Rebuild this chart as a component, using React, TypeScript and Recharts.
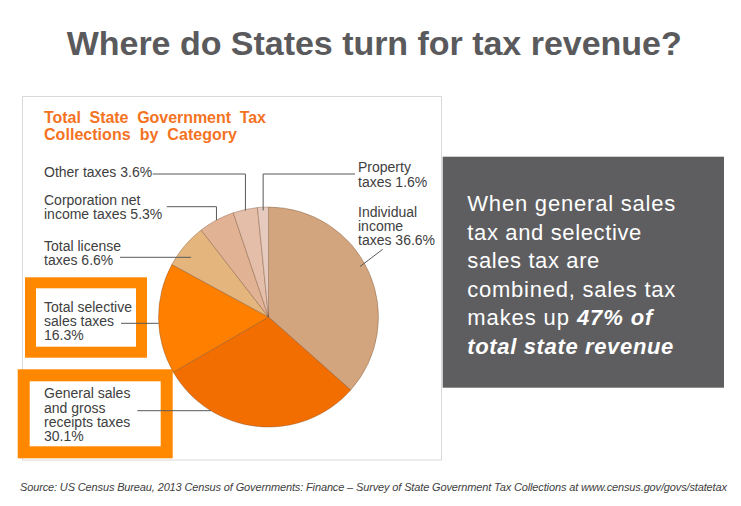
import { PieChart, Pie, Cell } from "recharts";

const categories = [
  "Individual income taxes",
  "General sales and gross receipts taxes",
  "Total selective sales taxes",
  "Total license taxes",
  "Corporation net income taxes",
  "Other taxes",
  "Property taxes",
];
const shares = [36.6, 30.1, 16.3, 6.6, 5.3, 3.6, 1.6];
// label text per slice, {v} is replaced by the share
const labelLines = [
  ["Individual", "income", "taxes {v}%"],
  ["General sales", "and gross", "receipts taxes", "{v}%"],
  ["Total selective", "sales taxes", "{v}%"],
  ["Total license", "taxes {v}%"],
  ["Corporation net", "income taxes {v}%"],
  ["Other taxes {v}%"],
  ["Property", "taxes {v}%"],
];
const calloutLines = [
  ["When general sales"],
  ["tax and selective"],
  ["sales tax are"],
  ["combined, sales tax"],
  ["makes up ", "47% of"],
  ["", "total state revenue"],
];

const sliceColors = ["#D2A57E", "#F36E00", "#FF7F00", "#E4B67D", "#E2B294", "#E4BEA8", "#E6CABE"];
const FONT = "'Liberation Sans', Arial, Helvetica, sans-serif";
const RAD = Math.PI / 180;
const LINE_H = 14.2;

// where each label sits and how its leader line runs
const labelLayout = [
  { x: 358, y: 217, lead: { kind: "inside", x0: 382.7, y0: 249.3, rFrac: 0.95, dAng: 4.7 } },
  { x: 44, y: 398.3, lead: { kind: "edge", x0: 137.3, y0: 410.7, inset: 0 } },
  { x: 44, y: 311.7, lead: { kind: "edge", x0: 121, y0: 323.3, inset: 0 } },
  { x: 44, y: 251, lead: { kind: "edge", x0: 120, y0: 257.3, inset: 15 } },
  { x: 44, y: 205, lead: { kind: "elbow", x0: 166.7, y0: 206.7, rFrac: 1.0 } },
  { x: 44, y: 176.7, lead: { kind: "elbow", x0: 152.7, y0: 174, rFrac: 0.99 } },
  { x: 358, y: 172.3, lead: { kind: "elbow", x0: 355, y0: 174, rFrac: 0.97 } },
];

const data = categories.map((name, i) => ({ name, value: shares[i] }));

function SliceLabel(props: any) {
  const { cx, cy, midAngle, outerRadius, index } = props;
  const lay = labelLayout[index];
  const lead: any = lay.lead;
  let d = "";
  if (lead.kind === "edge") {
    const dy = lead.y0 - cy;
    const ex = cx - Math.sqrt(outerRadius * outerRadius - dy * dy) + lead.inset;
    d = `M${lead.x0},${lead.y0}L${ex},${lead.y0}`;
  } else {
    const a = (midAngle + (lead.dAng || 0)) * RAD;
    const r = outerRadius * lead.rFrac;
    const px = cx + r * Math.cos(a);
    const py = cy - r * Math.sin(a);
    d =
      lead.kind === "elbow"
        ? `M${lead.x0},${lead.y0}L${px},${lead.y0}L${px},${py}`
        : `M${lead.x0},${lead.y0}L${px},${py}`;
  }
  const lines = labelLines[index].map((l) => l.replace("{v}", String(shares[index])));
  return (
    <g>
      <path d={d} stroke="#595959" strokeWidth={1} fill="none" />
      <text x={lay.x} y={lay.y} fontFamily={FONT} fontSize={14} fill="#404040">
        {lines.map((l, i) => (
          <tspan key={i} x={lay.x} dy={i === 0 ? 0 : LINE_H}>
            {l}
          </tspan>
        ))}
      </text>
    </g>
  );
}

const calloutWidths = [208, 174, 132, 208, 185, 206];

export default function App() {
  return (
    <div style={{ position: "absolute", left: 0, top: 0, width: 741, height: 506, background: "#fff" }}>
      <svg width={741} height={506} style={{ position: "absolute", left: 0, top: 0 }}>
        <text x={66.7} y={55} fontFamily={FONT} fontSize={34} fontWeight="bold" fill="#5A5A5C" textLength={615}>
          Where do States turn for tax revenue?
        </text>
        <rect x={22.5} y={96.5} width={419} height={363.5} fill="#fff" stroke="#D9D9D9" strokeWidth={1} />
        <text x={44} y={122.7} fontFamily={FONT} fontSize={16} fontWeight="bold" fill="#F4731F" textLength={222} xmlSpace="preserve">
          Total  State  Government  Tax
        </text>
        <text x={44} y={139.5} fontFamily={FONT} fontSize={16} fontWeight="bold" fill="#F4731F" textLength={193} xmlSpace="preserve">
          Collections  by  Category
        </text>
        <rect x={30.5} y={282.8} width={111} height={69.4} fill="#fff" stroke="#FF8800" strokeWidth={11} />
        <rect x={23.7} y={375.3} width={143} height={77} fill="#fff" stroke="#FF8800" strokeWidth={12} />
        <rect x={442.7} y={156.7} width={281.3} height={231} fill="#5E5E60" />
        {calloutLines.map((parts, i) => (
          <text
            key={i}
            x={467.3}
            y={211 + i * 28.5}
            fontFamily={FONT}
            fontSize={22}
            fill="#fff"
            textLength={calloutWidths[i]}
            xmlSpace="preserve"
          >
            {parts[0]}
            {parts[1] ? (
              <tspan fontWeight="bold" fontStyle="italic">
                {parts[1]}
              </tspan>
            ) : null}
          </text>
        ))}
        <text x={20} y={491} fontFamily={FONT} fontSize={11} fontStyle="italic" fill="#404040" textLength={707}>
          Source: US Census Bureau, 2013 Census of Governments: Finance – Survey of State Government Tax Collections at www.census.gov/govs/statetax
        </text>
      </svg>
      <div style={{ position: "absolute", left: 0, top: 0 }}>
        <PieChart width={741} height={506} margin={{ top: 0, right: 0, bottom: 0, left: 0 }}>
          <Pie
            data={data}
            dataKey="value"
            nameKey="name"
            cx={268.5}
            cy={317}
            outerRadius={110}
            startAngle={90}
            endAngle={-270}
            stroke="rgba(110,70,40,0.5)"
            strokeWidth={0.7}
            label={SliceLabel}
            labelLine={false}
            isAnimationActive={false}
          >
            {data.map((d, i) => (
              <Cell key={d.name} fill={sliceColors[i]} />
            ))}
          </Pie>
        </PieChart>
      </div>
    </div>
  );
}
